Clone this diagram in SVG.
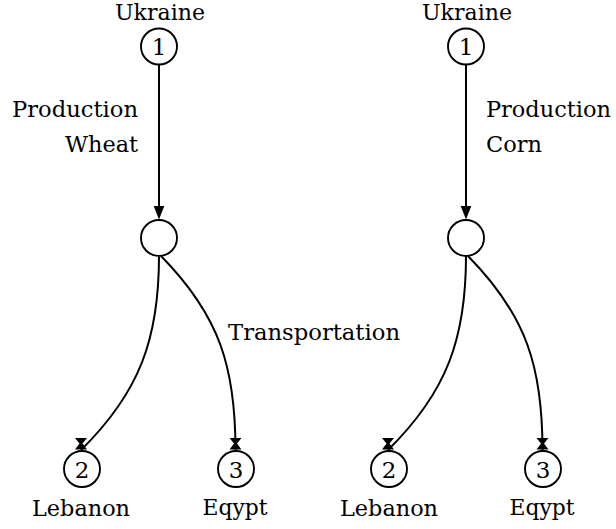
<svg xmlns="http://www.w3.org/2000/svg" width="616" height="529" viewBox="0 0 616 529">
  <style>
    .node { fill: #ffffff; stroke: #000000; stroke-width: 1.9; }
    .edge { fill: none; stroke: #000000; stroke-width: 2; }
    .lbl { font-size: 23px; fill: #000000; }
    .num { font-size: 23px; fill: #000000; text-anchor: middle; }
    .mid { text-anchor: middle; }
    .end { text-anchor: end; }
  </style>
  <defs>
    <!-- straight arrow tip for the production edges -->
    <marker id="latex" markerUnits="userSpaceOnUse" markerWidth="16" markerHeight="12" viewBox="0 -6 16 12" refX="3" refY="0" orient="auto">
      <path d="M0,-5.5 L14,0 L0,5.5 Z" fill="#000000"/>
    </marker>
    <!-- upright tip used on the transportation curves -->
    <marker id="tip" markerUnits="userSpaceOnUse" markerWidth="16" markerHeight="16" viewBox="-8 -14 16 16" refX="0" refY="0" orient="0">
      <path d="M-6,-12 L6,-12 L1.5,-6.5 L6,-0.5 L-6,-0.5 L-1.5,-6.5 Z" fill="#000000"/>
    </marker>
  </defs>

  <!-- connectors -->
  <g id="connectors">
    <path class="edge" d="M159,65 L159,208.5" marker-end="url(#latex)"/>
    <path class="edge" d="M159,256 C159,338 140,392 81,450" marker-end="url(#tip)"/>
    <path class="edge" d="M161,256 C220,316 235.5,368 235.5,450" marker-end="url(#tip)"/>

    <path class="edge" d="M466,65 L466,208.5" marker-end="url(#latex)"/>
    <path class="edge" d="M466,256 C466,338 447,392 388,450" marker-end="url(#tip)"/>
    <path class="edge" d="M468,256 C527,316 542.5,368 542.5,450" marker-end="url(#tip)"/>
  </g>

  <g font-family="DejaVu Serif, Liberation Serif, serif">
    <!-- edge labels -->
    <g id="edge-labels">
      <text class="lbl end" x="138" y="117" textLength="126" lengthAdjust="spacingAndGlyphs">Production</text>
      <text class="lbl end" x="138" y="152" textLength="73" lengthAdjust="spacingAndGlyphs">Wheat</text>
      <text class="lbl" x="228" y="340" textLength="172" lengthAdjust="spacingAndGlyphs">Transportation</text>
      <text class="lbl" x="486" y="117" textLength="125" lengthAdjust="spacingAndGlyphs">Production</text>
      <text class="lbl" x="486" y="152" textLength="56" lengthAdjust="spacingAndGlyphs">Corn</text>
    </g>

    <!-- wheat network -->
    <g id="wheat-ukraine">
      <circle class="node" cx="159" cy="46.5" r="18"/>
      <text class="num" x="159" y="55">1</text>
      <text class="lbl mid" x="160" y="20" textLength="90" lengthAdjust="spacingAndGlyphs">Ukraine</text>
    </g>
    <g id="wheat-hub">
      <circle class="node" cx="159" cy="238" r="18"/>
    </g>
    <g id="wheat-lebanon">
      <circle class="node" cx="82" cy="469" r="18"/>
      <text class="num" x="82" y="477.5">2</text>
      <text class="lbl mid" x="81" y="516" textLength="98" lengthAdjust="spacingAndGlyphs">Lebanon</text>
    </g>
    <g id="wheat-egypt">
      <circle class="node" cx="236" cy="469" r="18"/>
      <text class="num" x="236" y="477.5">3</text>
      <text class="lbl mid" x="235" y="515" textLength="65" lengthAdjust="spacingAndGlyphs">Eqypt</text>
    </g>

    <!-- corn network -->
    <g id="corn-ukraine">
      <circle class="node" cx="466" cy="46.5" r="18"/>
      <text class="num" x="466" y="55">1</text>
      <text class="lbl mid" x="467" y="20" textLength="90" lengthAdjust="spacingAndGlyphs">Ukraine</text>
    </g>
    <g id="corn-hub">
      <circle class="node" cx="466" cy="238" r="18"/>
    </g>
    <g id="corn-lebanon">
      <circle class="node" cx="389" cy="469" r="18"/>
      <text class="num" x="389" y="477.5">2</text>
      <text class="lbl mid" x="389" y="516" textLength="98" lengthAdjust="spacingAndGlyphs">Lebanon</text>
    </g>
    <g id="corn-egypt">
      <circle class="node" cx="543" cy="469" r="18"/>
      <text class="num" x="543" y="477.5">3</text>
      <text class="lbl mid" x="542" y="515" textLength="65" lengthAdjust="spacingAndGlyphs">Eqypt</text>
    </g>
  </g>
</svg>
